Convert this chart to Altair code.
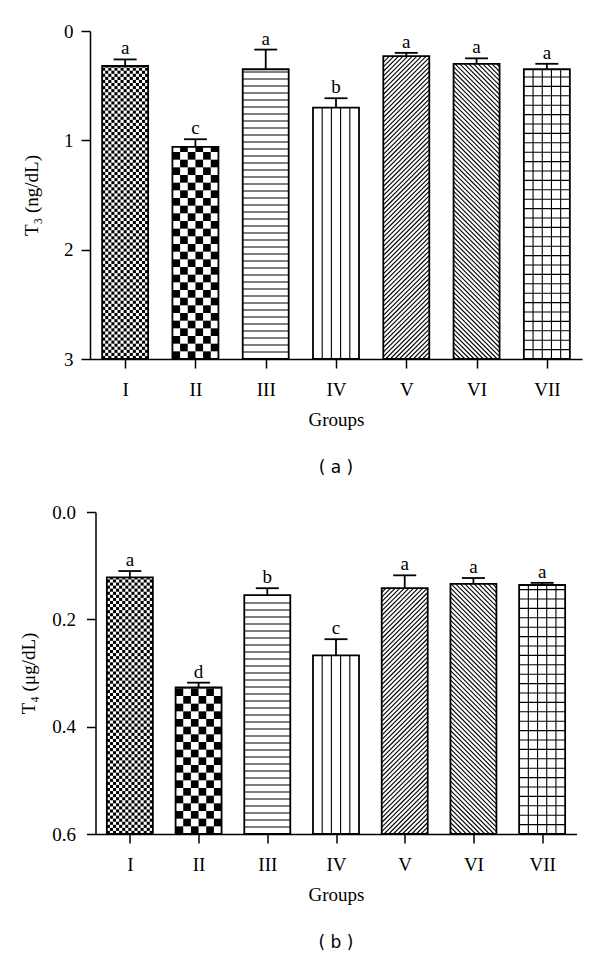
import math
import altair as alt
import pandas as pd

# ---------------- data ----------------
groups = ["I", "II", "III", "IV", "V", "VI", "VII"]

t3_mean = [0.32, 1.06, 0.35, 0.70, 0.23, 0.30, 0.35]
t3_err = [0.06, 0.07, 0.18, 0.085, 0.03, 0.05, 0.05]
t3_letters = ["a", "c", "a", "b", "a", "a", "a"]

t4_mean = [0.122, 0.327, 0.155, 0.267, 0.142, 0.134, 0.136]
t4_err = [0.012, 0.009, 0.013, 0.030, 0.024, 0.011, 0.004]
t4_letters = ["a", "d", "b", "c", "a", "a", "a"]

patterns = ["fine_checker", "checker", "hlines", "vlines", "diag_up", "diag_down", "grid"]

SERIF = "Liberation Serif"
FS = 19


def build_panel(means, errs, letters, ymax, W, H, ytitle, yvalues, yformat, caption,
                ylabel_pad, ytitle_pad):
    n = len(groups)
    kx = W / n          # px per x unit
    ky = H / ymax       # px per y unit
    half = 23.0 / kx
    cap = 11.5 / kx

    bars, cells, lines, err_v, err_c, texts = [], [], [], [], [], []
    for i, (v, e, l) in enumerate(zip(means, errs, letters)):
        g = i + 1
        x0 = g - half
        bw = 2 * half * kx
        bh = (ymax - v) * ky

        def P(u, w):
            return x0 + u / kx, ymax - w / ky

        bars.append(dict(x=g - half, x2=g + half, y=v, y2=ymax))
        err_v.append(dict(x=g, y=v, y2=v - e))
        err_c.append(dict(x=g - cap, x2=g + cap, y=v - e))
        texts.append(dict(x=g, y=v - e, t=l))

        p = patterns[i]

        def add_line(u0, w0, u1, w1):
            a = P(u0, w0)
            b = P(u1, w1)
            lines.append(dict(x=a[0], y=a[1], x2=b[0], y2=b[1]))

        if p in ("fine_checker", "checker"):
            ncols = 15 if p == "fine_checker" else 6
            c = bw / ncols
            nrows = int(math.ceil(bh / c))
            for j in range(nrows):
                w0, w1 = j * c, min((j + 1) * c, bh)
                for k in range(ncols):
                    if (k + j) % 2 == 0:
                        a = P(k * c, w0)
                        b = P((k + 1) * c, w1)
                        cells.append(dict(x=a[0], x2=b[0], y=a[1], y2=b[1]))
        elif p == "hlines":
            s = 7.0
            w = s
            while w < bh - 1:
                add_line(0, w, bw, w)
                w += s
        elif p in ("vlines", "grid"):
            for k in range(1, 5):
                u = bw * k / 5
                add_line(u, 0, u, bh)
            if p == "grid":
                s = 9.4
                w = s
                while w < bh - 1:
                    add_line(0, w, bw, w)
                    w += s
        elif p == "diag_up":
            s = 4.6
            c = -bw + s / 2
            while c < bh:
                u0 = max(0.0, -c)
                u1 = min(bw, bh - c)
                if u1 > u0:
                    add_line(u0, u0 + c, u1, u1 + c)
                c += s
        elif p == "diag_down":
            s = 4.6
            c = s / 2
            while c < bw + bh:
                u0 = max(0.0, c - bh)
                u1 = min(bw, c)
                if u1 > u0:
                    add_line(u0, c - u0, u1, c - u1)
                c += s

    label_expr = "[" + ",".join("'%s'" % g for g in groups) + "][datum.value - 1]"
    xaxis = alt.Axis(values=list(range(1, n + 1)), labelExpr=label_expr, title="Groups",
                     grid=False, tickSize=9, labelPadding=12, titlePadding=11,
                     labelAngle=0)
    yaxis = alt.Axis(values=yvalues, format=yformat, title=ytitle, grid=False,
                     tickSize=9, labelPadding=ylabel_pad, titlePadding=ytitle_pad)

    xs = alt.Scale(domain=[0.5, n + 0.5], nice=False, zero=False)
    ys = alt.Scale(domain=[0, ymax], reverse=True, nice=False, zero=False)

    def X():
        return alt.X("x:Q", scale=xs, axis=xaxis, title="Groups")

    def Y():
        return alt.Y("y:Q", scale=ys, axis=yaxis, title=ytitle)

    bar_fill = alt.Chart(pd.DataFrame(bars)).mark_rect(fill="white", strokeWidth=0).encode(
        x=X(), x2="x2:Q", y=Y(), y2="y2:Q")
    cell_layer = alt.Chart(pd.DataFrame(cells)).mark_rect(fill="black", strokeWidth=0).encode(
        x=X(), x2="x2:Q", y=Y(), y2="y2:Q")
    line_layer = alt.Chart(pd.DataFrame(lines)).mark_rule(color="black", strokeWidth=1.1).encode(
        x=X(), x2="x2:Q", y=Y(), y2="y2:Q")
    bar_outline = alt.Chart(pd.DataFrame(bars)).mark_rect(
        fill="transparent", stroke="black", strokeWidth=1.8).encode(
        x=X(), x2="x2:Q", y=Y(), y2="y2:Q")
    ev = alt.Chart(pd.DataFrame(err_v)).mark_rule(color="black", strokeWidth=1.8).encode(
        x=X(), y=Y(), y2="y2:Q")
    ec = alt.Chart(pd.DataFrame(err_c)).mark_rule(color="black", strokeWidth=1.8).encode(
        x=X(), x2="x2:Q", y=Y())
    tx = alt.Chart(pd.DataFrame(texts)).mark_text(
        font=SERIF, fontSize=FS, baseline="alphabetic", dy=-5, color="black").encode(
        x=X(), y=Y(), text="t:N")

    return alt.layer(bar_fill, cell_layer, line_layer, bar_outline, ev, ec, tx).properties(
        width=W, height=H,
        title=alt.TitleParams(caption, orient="bottom", font="DejaVu Sans", fontSize=17,
                              fontWeight="normal", color="black", offset=31),
    )


panel_a = build_panel(t3_mean, t3_err, t3_letters, 3.0, 492, 328, "T₃ (ng/dL)",
                      [0, 1, 2, 3], "d", "( a )", 8, 22)
panel_b = build_panel(t4_mean, t4_err, t4_letters, 0.6, 481, 322, "T₄ (μg/dL)",
                      [0.0, 0.2, 0.4, 0.6], ".1f", "( b )", 11, 13)

chart = alt.vconcat(panel_a, panel_b, spacing=27, center=True).properties(
    padding={"left": 11, "top": 14, "right": 5, "bottom": 5}
).configure_view(stroke=None).configure_axis(
    labelFont=SERIF, labelFontSize=FS, labelColor="black",
    titleFont=SERIF, titleFontSize=FS, titleFontWeight="normal", titleColor="black",
    domainColor="black", domainWidth=1.5, tickColor="black", tickWidth=1.5,
)

chart.save("out.html", embed_options={"renderer": "svg", "actions": False})
